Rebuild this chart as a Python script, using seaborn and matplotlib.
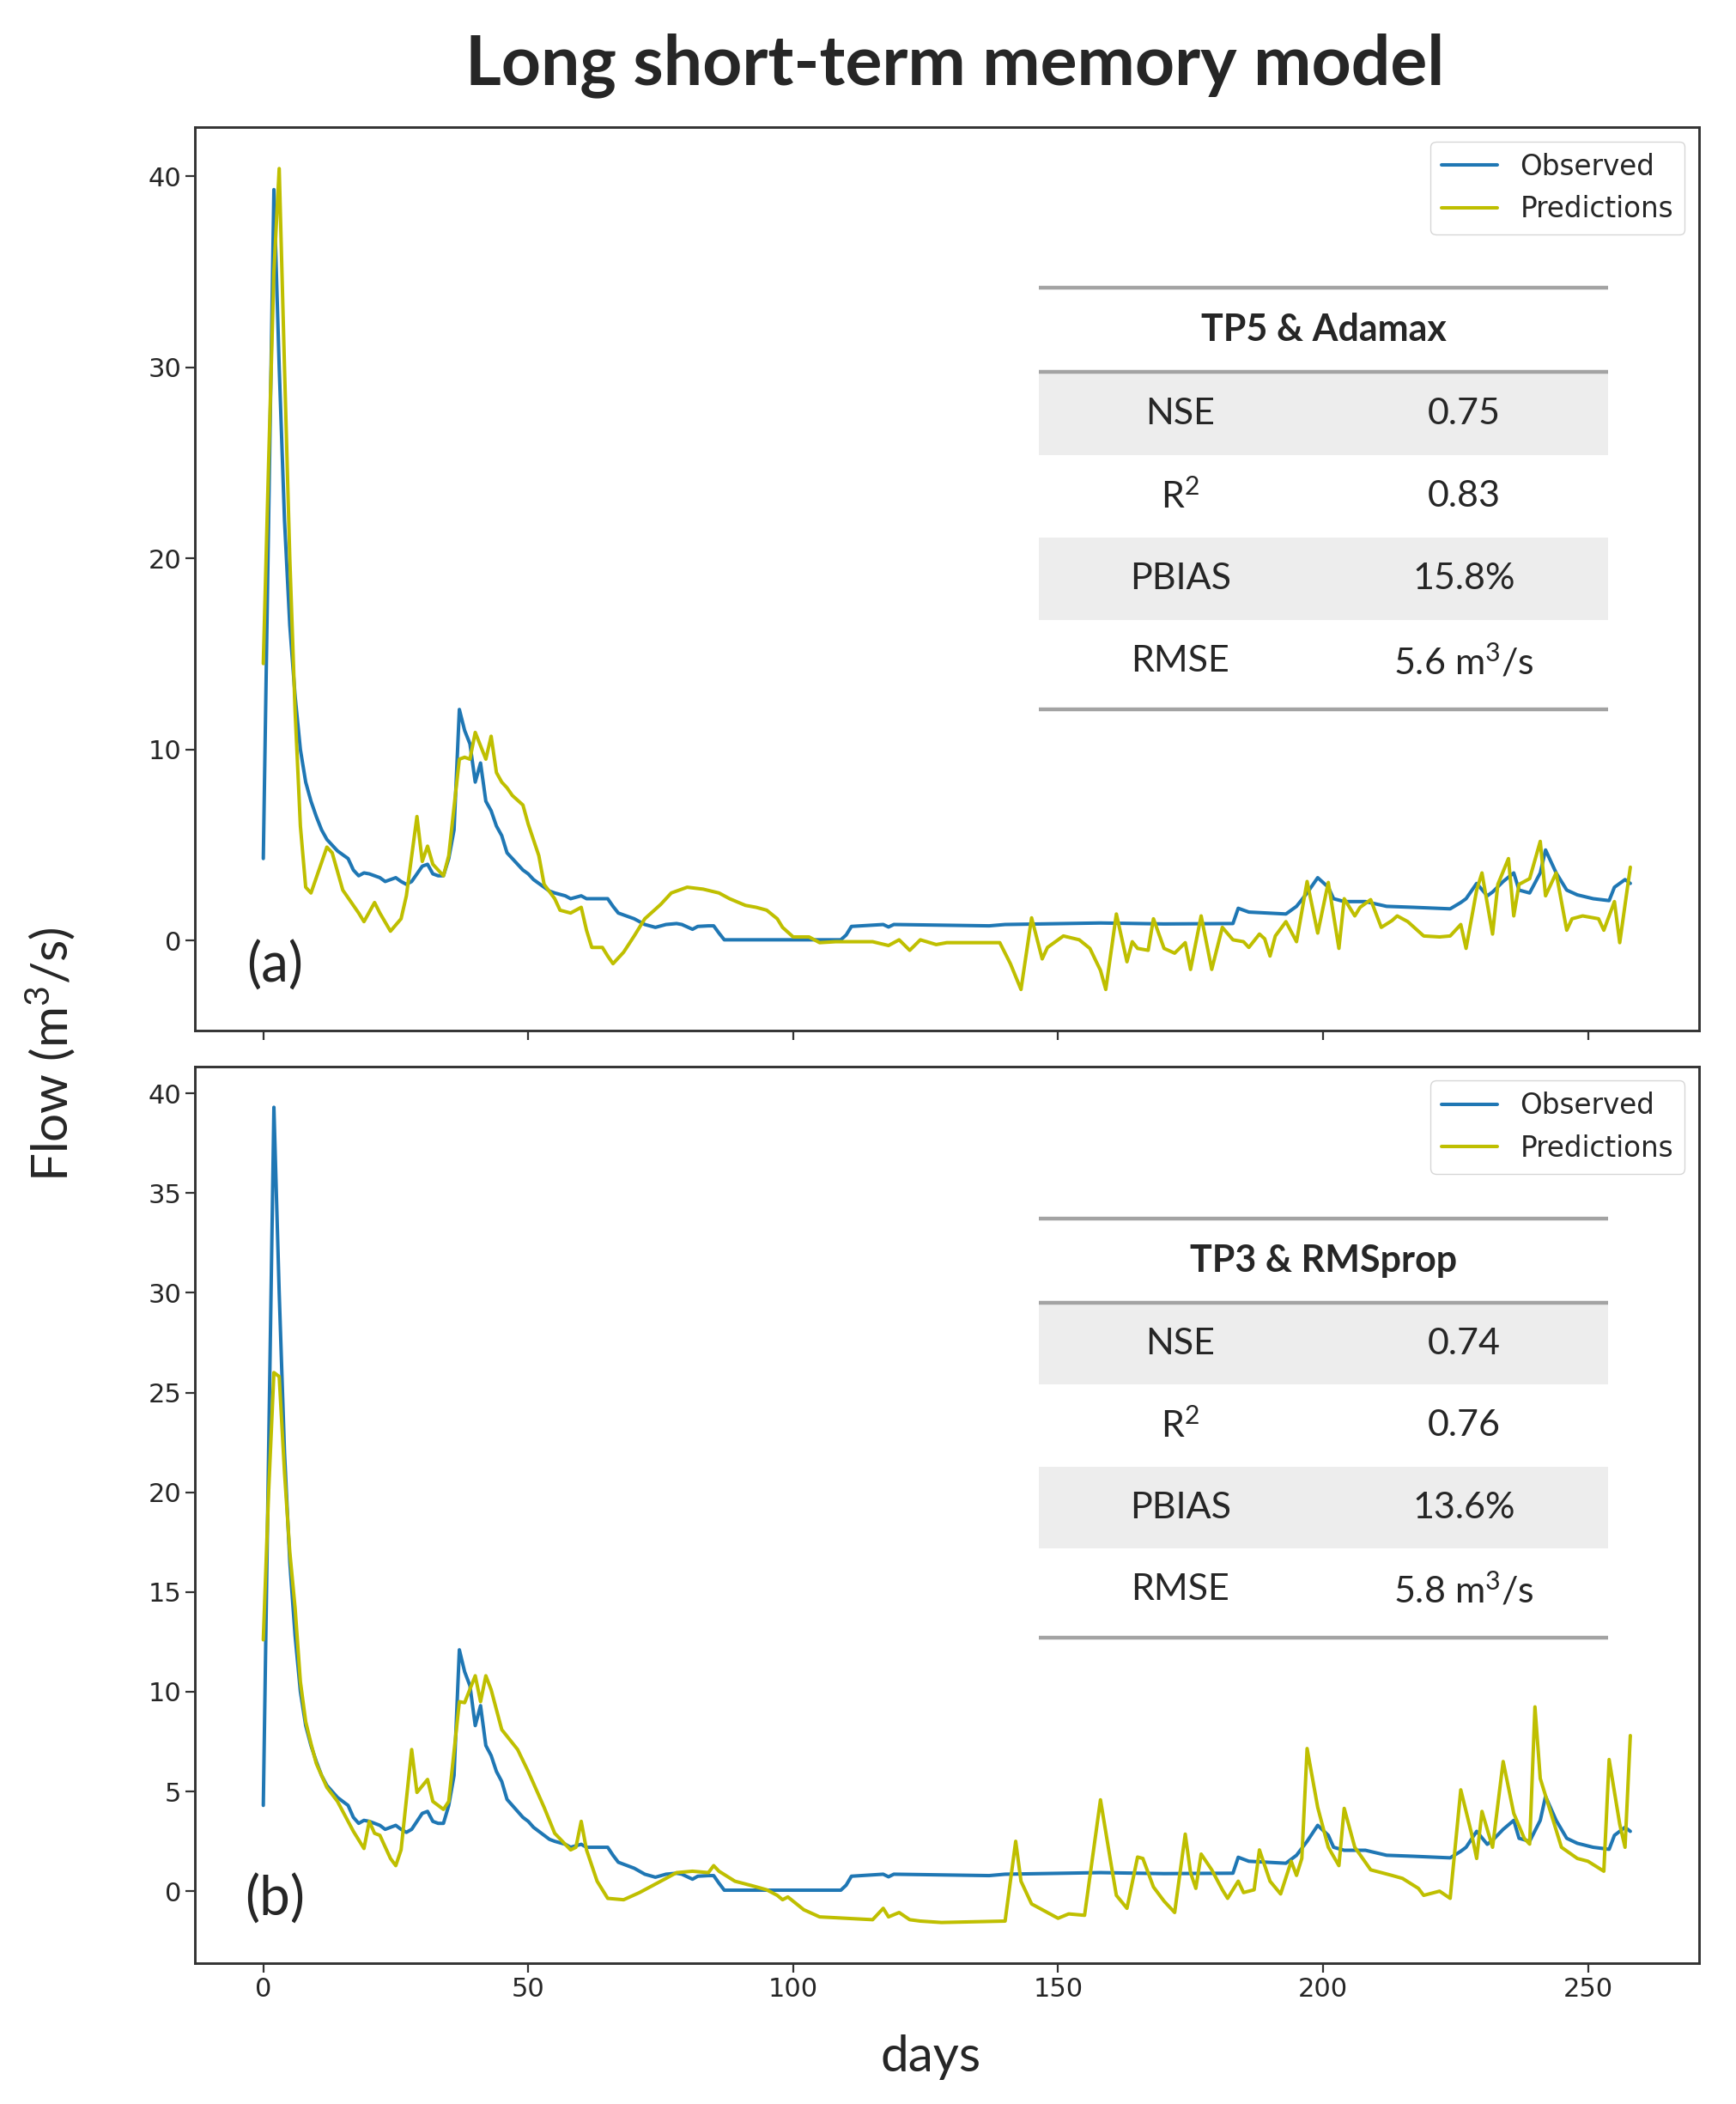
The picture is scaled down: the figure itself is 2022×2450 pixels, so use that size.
import pandas as pd
import seaborn as sns
import matplotlib.pyplot as plt
from matplotlib.patches import Rectangle

# observed flow (same series in both panels), vertices
obs_day = [0, 1, 2, 3, 4, 5, 6, 7, 8, 9, 10, 11, 12, 13, 14, 15, 16, 17, 18, 19, 20,
           21, 22, 23, 24, 25, 26, 27, 28, 29, 30, 31, 32, 33, 34, 35, 36, 37, 38, 39,
           40, 41, 42, 43, 44, 45, 46, 47, 48, 49, 50, 51, 52, 53, 54, 55, 57, 58, 60,
           61, 64, 65, 66, 67, 69, 70, 72, 74, 76, 78, 79, 81, 82, 84, 85, 86, 87, 109,
           110, 111, 114, 117, 118, 119, 137, 140, 158, 170, 183, 184, 186, 193, 195,
           197, 199, 201, 202, 204, 208, 212, 217, 224, 226, 227, 229, 231, 232, 234,
           236, 237, 239, 241, 242, 244, 246, 248, 251, 254, 255, 257, 258]
obs_flow = [4.3, 22, 39.3, 30, 22, 16.5, 12.8, 10.0, 8.3, 7.3, 6.5, 5.8, 5.3, 5.0, 4.7,
            4.5, 4.3, 3.7, 3.4, 3.55, 3.5, 3.4, 3.3, 3.1, 3.2, 3.3, 3.1, 2.95, 3.1, 3.5,
            3.9, 4.0, 3.5, 3.4, 3.4, 4.3, 5.8, 12.1, 11.0, 10.3, 8.3, 9.3, 7.3, 6.8, 6.0,
            5.5, 4.6, 4.3, 4.0, 3.7, 3.5, 3.2, 3.0, 2.8, 2.6, 2.5, 2.35, 2.2, 2.35, 2.2,
            2.2, 2.2, 1.8, 1.45, 1.25, 1.15, 0.85, 0.7, 0.85, 0.9, 0.85, 0.6, 0.75, 0.78,
            0.78, 0.4, 0.05, 0.05, 0.3, 0.75, 0.8, 0.85, 0.72, 0.85, 0.78, 0.85, 0.93,
            0.88, 0.9, 1.7, 1.5, 1.4, 1.8, 2.5, 3.3, 2.8, 2.2, 2.05, 2.05, 1.8, 1.75,
            1.67, 2.0, 2.2, 3.0, 2.35, 2.55, 3.1, 3.55, 2.65, 2.5, 3.55, 4.75, 3.55, 2.65,
            2.4, 2.2, 2.1, 2.8, 3.2, 3.0]

# predictions, TP5 & Adamax (panel a)
pred_a_day = [0, 1, 2, 3, 4, 5, 6, 7, 8, 9, 10, 12, 13, 15, 18, 19, 21, 22, 24, 26, 27,
              29, 30, 31, 32, 34, 35, 36, 37, 38, 39, 40, 42, 43, 44, 45, 46, 47, 49, 50,
              52, 53, 55, 56, 58, 60, 61, 62, 64, 65, 66, 68, 70, 72, 75, 77, 80, 83, 86,
              88, 91, 93, 95, 97, 98, 100, 103, 105, 108, 115, 118, 120, 122, 124, 127,
              129, 139, 141, 143, 145, 147, 148, 151, 154, 156, 158, 159, 161, 163, 164,
              165, 167, 168, 170, 172, 174, 175, 177, 179, 181, 183, 185, 186, 188, 189,
              190, 191, 193, 195, 197, 199, 201, 203, 204, 206, 207, 209, 211, 213, 214,
              216, 219, 222, 224, 226, 227, 229, 230, 232, 233, 235, 236, 237, 239, 241,
              242, 244, 246, 247, 249, 252, 253, 255, 256, 258]
pred_a_flow = [14.5, 25, 35, 40.4, 30, 20, 12, 6, 2.8, 2.5, 3.3, 4.9, 4.6, 2.65, 1.45,
               1.0, 2.0, 1.45, 0.5, 1.15, 2.35, 6.5, 4.15, 4.95, 4.0, 3.4, 4.45, 7.0, 9.5,
               9.6, 9.5, 10.9, 9.5, 10.7, 8.8, 8.3, 8.0, 7.6, 7.1, 6.1, 4.45, 2.95, 2.2,
               1.6, 1.45, 1.75, 0.55, -0.35, -0.35, -0.8, -1.2, -0.6, 0.25, 1.15, 1.9,
               2.5, 2.8, 2.7, 2.5, 2.2, 1.85, 1.75, 1.6, 1.15, 0.7, 0.2, 0.2, -0.1, -0.05,
               -0.05, -0.25, 0.05, -0.5, 0.05, -0.2, -0.1, -0.1, -1.2, -2.55, 1.2, -0.95,
               -0.35, 0.25, 0.05, -0.4, -1.55, -2.55, 1.4, -1.1, -0.05, -0.4, -0.5, 1.15,
               -0.4, -0.65, -0.1, -1.5, 1.3, -1.5, 0.7, 0.05, -0.05, -0.35, 0.35, 0.1,
               -0.8, 0.25, 1.0, -0.05, 3.1, 0.4, 3.05, -0.4, 2.2, 1.3, 1.75, 2.15, 0.7,
               1.05, 1.3, 1.0, 0.25, 0.2, 0.25, 0.85, -0.4, 2.65, 3.55, 0.35, 2.95, 4.3,
               1.3, 2.95, 3.25, 5.2, 2.35, 3.55, 0.55, 1.15, 1.3, 1.15, 0.55, 2.05, -0.1,
               3.85]

# predictions, TP3 & RMSprop (panel b)
pred_b_day = [0, 1, 2, 3, 4, 5, 6, 7, 8, 9, 10, 12, 14, 16, 17, 19, 20, 21, 22, 24, 25,
              26, 28, 29, 31, 32, 34, 35, 37, 38, 40, 41, 42, 43, 45, 48, 50, 53, 55, 58,
              59, 60, 61, 63, 65, 68, 71, 76, 78, 81, 84, 85, 86, 89, 92, 95, 97, 98, 99,
              102, 105, 110, 115, 117, 118, 120, 122, 124, 128, 140, 142, 143, 145, 150,
              152, 155, 158, 160, 161, 163, 165, 166, 168, 170, 172, 174, 175, 176, 177,
              179, 181, 182, 184, 185, 187, 188, 190, 192, 194, 195, 196, 197, 199, 201,
              203, 204, 206, 209, 213, 215, 218, 219, 222, 224, 226, 228, 229, 230, 232,
              234, 236, 238, 239, 240, 241, 244, 245, 248, 250, 253, 254, 256, 257, 258]
pred_b_flow = [12.6, 20, 26, 25.8, 21, 17, 14.2, 10.5, 8.5, 7.4, 6.4, 5.2, 4.5, 3.5, 3.0,
               2.14, 3.5, 2.9, 2.8, 1.64, 1.28, 2.07, 7.1, 4.95, 5.6, 4.5, 4.1, 4.5, 9.5,
               9.45, 10.8, 9.5, 10.8, 10.1, 8.1, 7.1, 6.0, 4.2, 2.9, 2.07, 2.2, 3.5, 2.07,
               0.5, -0.36, -0.43, -0.07, 0.64, 0.93, 1.0, 0.93, 1.28, 1.0, 0.5, 0.29, 0.07,
               -0.21, -0.43, -0.29, -0.93, -1.29, -1.36, -1.43, -0.86, -1.29, -1.07, -1.43,
               -1.5, -1.57, -1.5, 2.5, 0.5, -0.64, -1.36, -1.14, -1.21, 4.58, 1.36, -0.21,
               -0.86, 1.71, 1.64, 0.21, -0.5, -1.07, 2.86, 0.93, 0.14, 1.86, 1.07, 0.07,
               -0.36, 0.5, -0.07, 0.07, 2.07, 0.5, -0.14, 1.5, 0.79, 1.64, 7.15, 4.2, 2.2,
               1.28, 4.15, 2.2, 1.07, 0.79, 0.64, 0.14, -0.21, 0.0, -0.36, 5.08, 2.93, 1.64,
               4.0, 2.2, 6.5, 3.9, 2.64, 2.36, 9.24, 5.65, 3.07, 2.2, 1.64, 1.5, 1.0, 6.6,
               3.36, 2.2, 7.8]

metric_names = ["NSE", "R$^{2}$", "PBIAS", "RMSE"]
metrics_a = ["0.75", "0.83", "15.8%", "5.6 m$^{3}$/s"]
metrics_b = ["0.74", "0.76", "13.6%", "5.8 m$^{3}$/s"]
headers = ["TP5 & Adamax", "TP3 & RMSprop"]
panel_tags = ["(a)", "(b)"]

sns.set_theme(style="ticks")
plt.rcParams['font.family'] = ['DejaVu Sans']
plt.rcParams['mathtext.fontset'] = 'custom'
plt.rcParams['mathtext.rm'] = 'Lato'
plt.rcParams['mathtext.it'] = 'Lato:italic'
plt.rcParams['mathtext.bf'] = 'Lato:bold'
word_font = ['Lato', 'DejaVu Sans']

palette = {"Observed": "#1f77b4", "Predictions": "#bfbf00"}


def make_df(pred_day, pred_flow):
    obs = pd.DataFrame({"day": obs_day, "flow": obs_flow, "series": "Observed"})
    pred = pd.DataFrame({"day": pred_day, "flow": pred_flow, "series": "Predictions"})
    return pd.concat([obs, pred], ignore_index=True)


def draw_table(ax, top, header, values):
    x0, x1 = 0.561, 0.940
    row = 0.0915
    grey_line = "#a3a3a3"
    ax.plot([x0, x1], [top, top], transform=ax.transAxes, color=grey_line, lw=3.2,
            solid_capstyle="butt", zorder=5)
    ax.text((x0 + x1) / 2, top - 0.047, header, transform=ax.transAxes, ha="center",
            va="center", fontsize=31, fontweight="bold", family=word_font, zorder=6)
    y = top - 0.094
    ax.plot([x0, x1], [y, y], transform=ax.transAxes, color=grey_line, lw=3.2,
            solid_capstyle="butt", zorder=5)
    for i, (name, val) in enumerate(zip(metric_names, values)):
        y_hi = y - i * row
        if i % 2 == 0:
            ax.add_patch(Rectangle((x0, y_hi - row), x1 - x0, row, transform=ax.transAxes,
                                   facecolor="#ededed", edgecolor="none", zorder=4))
        yc = y_hi - row / 2
        ax.text(0.6554, yc, name, transform=ax.transAxes, ha="center", va="center",
                fontsize=31, family=word_font, zorder=6)
        ax.text(0.8437, yc, val, transform=ax.transAxes, ha="center", va="center",
                fontsize=31, family=word_font, zorder=6)
    yb = y - 4 * row - 0.0075
    ax.plot([x0, x1], [yb, yb], transform=ax.transAxes, color=grey_line, lw=3.2,
            solid_capstyle="butt", zorder=5)


fig = plt.figure(figsize=(20.22, 24.5), dpi=100)
ax_a = fig.add_axes([0.1123, 0.5102, 0.8662, 0.4292])
ax_b = fig.add_axes([0.1123, 0.0669, 0.8662, 0.4262], sharex=ax_a)

panels = [
    (ax_a, make_df(pred_a_day, pred_a_flow), metrics_a, 0.823),
    (ax_b, make_df(pred_b_day, pred_b_flow), metrics_b, 0.8307),
]

for k, (ax, df, vals, table_top) in enumerate(panels):
    sns.lineplot(data=df, x="day", y="flow", hue="series", palette=palette,
                 estimator=None, sort=False, linewidth=2.9, ax=ax)
    handles, labels = ax.get_legend_handles_labels()
    ax.legend(handles, labels, loc="upper right", fontsize=23.5, frameon=True)
    ax.set_xlabel("")
    ax.set_ylabel("")
    for side in ["top", "right", "bottom", "left"]:
        ax.spines[side].set_visible(True)
        ax.spines[side].set_color("#333333")
        ax.spines[side].set_linewidth(2.1)
    ax.tick_params(axis="both", labelsize=22, length=8, width=1.6, color="#333333")
    ax.margins(x=0.05, y=0.05)
    ax.text(0.053, 0.071, panel_tags[k], transform=ax.transAxes, ha="center",
            va="center", fontsize=46, family=word_font)
    draw_table(ax, table_top, headers[k], vals)

ax_a.set_yticks([0, 10, 20, 30, 40])
ax_b.set_yticks([0, 5, 10, 15, 20, 25, 30, 35, 40])
ax_b.set_xticks([0, 50, 100, 150, 200, 250])
plt.setp(ax_a.get_xticklabels(), visible=False)

fig.text(0.55, 0.969, "Long short-term memory model", ha="center", va="center",
         fontsize=58, fontweight="bold", family=word_font)
fig.text(0.029, 0.499, "Flow (m$^{3}$/s)", ha="center", va="center", rotation=90,
         fontsize=42, family=word_font)
fig.text(0.536, 0.0224, "days", ha="center", va="center", fontsize=42,
         family=word_font)

fig.savefig("out.png", dpi=100, facecolor="white")
